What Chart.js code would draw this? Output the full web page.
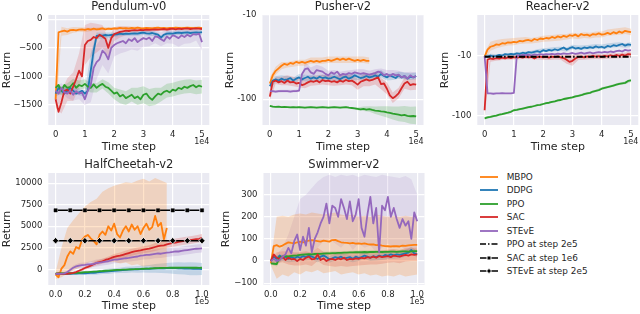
<!DOCTYPE html>
<html><head><meta charset="utf-8">
<script src="https://cdn.jsdelivr.net/npm/chart.js@4.4.0/dist/chart.umd.min.js"></script>
<style>
html,body{margin:0;padding:0;background:#fff;width:640px;height:314px;overflow:hidden;position:relative;font-family:'DejaVu Sans',sans-serif;}
canvas{position:absolute;}
.lg{position:absolute;left:480px;height:12px;line-height:12px;font-size:8.9px;color:#262626;white-space:nowrap;}
.lg svg{position:absolute;left:0;top:2px;}
.lg span{position:absolute;left:26.7px;top:0;}
</style></head><body>
<script>
// ---------- tick labels / categories ----------
const legendLabels = ['MBPO','DDPG','PPO','SAC','STEvE','PPO at step 2e5','SAC at step 1e6','STEvE at step 2e5'];
const titles = ['Pendulum-v0','Pusher-v2','Reacher-v2','HalfCheetah-v2','Swimmer-v2'];
const xTicks5e4 = [0,10000,20000,30000,40000,50000];
const xTicks1e5 = [0,20000,40000,60000,80000,100000];
const pendYTicks = [0,-500,-1000,-1500];
const logYTicks = [-10,-100];
const cheetahYTicks = [0,2500,5000,7500,10000];
const swimYTicks = [-100,0,100,200,300];

const steps = (n, d) => Array.from({length: n}, (_, i) => i * d);

// ---------- Pendulum-v0 (every 1000 steps) ----------
const pendX = steps(51, 1000), pendBX = steps(26, 2000);
const pendMBPO = [-1400,-230,-210,-200,-215,-190,-185,-195,-180,-175,-185,-170,-180,-165,-175,-170,-160,-175,-165,-170,-160,-165,-150,-160,-155,-165,-150,-160,-145,-155,-160,-150,-155,-160,-150,-145,-155,-150,-160,-150,-155,-145,-150,-155,-150,-145,-150,-155,-150,-145,-155];
const pendDDPG = [-1300,-1200,-1250,-1300,-1250,-1200,-1250,-1300,-1280,-1250,-1300,-1250,-900,-550,-290,-280,-285,-275,-280,-275,-270,-265,-250,-260,-250,-255,-250,-245,-250,-240,-235,-245,-250,-240,-255,-270,-320,-270,-250,-245,-250,-240,-235,-240,-235,-230,-240,-235,-230,-235,-225];
const pendPPO = [-1200,-1150,-1250,-1150,-1200,-1180,-1120,-1200,-1150,-1170,-1130,-1180,-1200,-1140,-1200,-1160,-1130,-1180,-1200,-1250,-1300,-1280,-1350,-1320,-1380,-1350,-1320,-1380,-1350,-1400,-1320,-1300,-1370,-1410,-1350,-1300,-1320,-1270,-1250,-1280,-1230,-1250,-1200,-1220,-1180,-1200,-1170,-1150,-1190,-1160,-1180];
const pendSAC = [-1400,-1620,-1450,-1250,-1230,-1300,-1180,-1050,-900,-1000,-450,-380,-360,-310,-330,-270,-300,-340,-500,-330,-260,-240,-220,-210,-200,-205,-195,-190,-195,-185,-190,-180,-185,-180,-175,-180,-175,-170,-180,-170,-165,-175,-165,-170,-165,-160,-170,-165,-160,-165,-170];
const pendSTEVE = [-1250,-1300,-1200,-1280,-1300,-1250,-1320,-1260,-1300,-1280,-1400,-1250,-1150,-850,-750,-700,-550,-600,-700,-500,-450,-420,-400,-380,-420,-350,-380,-330,-400,-360,-330,-350,-320,-380,-300,-310,-350,-380,-300,-340,-280,-300,-330,-280,-310,-270,-300,-260,-270,-250,-400];
const pendMBPOsd = [300,80,60,50,40,40,30,30,30,25,25,25,25,25,20,20,20,20,20,20,20,20,20,20,20,20];
const pendDDPGsd = [50,50,60,60,50,60,300,60,50,50,40,40,40,40,40,40,40,40,40,40,40,40,40,40,40,40];
const pendPPOsd = [80,80,80,80,80,80,80,80,80,100,100,120,120,120,150,150,150,150,120,120,120,120,120,120,120,120];
const pendSACsd = [150,200,200,250,300,350,300,250,200,150,120,100,80,60,50,40,40,30,30,30,30,30,30,30,30,30];
const pendSTEVEsd = [80,80,80,100,100,100,300,300,250,250,200,200,150,150,150,150,150,120,120,120,150,150,120,120,100,150];

// ---------- Pusher-v2 ----------
const pushX = steps(51, 1000), pushBX = steps(26, 2000);
const pushMBPO = [-65,-52,-46,-43,-40,-38,-39,-37,-38,-36,-37,-36,-37,-36,-35,-36,-35,-36,-35,-35,-34,-35,-34,-33,-34,-33,-34,-33,-34,-35,-34,-35,-34,-35,-35];
const pushDDPG = [-70,-60,-58,-60,-57,-59,-58,-56,-60,-57,-55,-58,-56,-54,-57,-55,-57,-54,-56,-55,-57,-56,-54,-56,-58,-55,-54,-57,-55,-52,-54,-56,-55,-53,-55,-54,-52,-54,-50,-53,-55,-52,-54,-56,-52,-55,-53,-57,-54,-55,-53];
const pushPPO = [-120,-122,-123,-122,-124,-123,-124,-125,-124,-125,-124,-125,-126,-125,-124,-125,-126,-125,-124,-125,-126,-125,-124,-125,-126,-125,-124,-126,-127,-128,-130,-132,-130,-133,-131,-134,-136,-137,-139,-140,-143,-145,-148,-150,-152,-155,-153,-157,-159,-158,-160];
const pushSAC = [-93,-62,-60,-63,-61,-64,-60,-63,-62,-65,-64,-68,-66,-63,-61,-62,-60,-63,-59,-61,-60,-62,-61,-63,-60,-62,-59,-61,-60,-63,-67,-62,-60,-58,-60,-59,-57,-55,-66,-65,-75,-90,-97,-92,-85,-74,-65,-62,-68,-66,-67];
const pushSTEVE = [-80,-80,-81,-80,-80,-80,-80,-81,-80,-80,-79,-50,-44,-43,-48,-50,-45,-46,-47,-50,-52,-48,-50,-47,-52,-50,-51,-49,-50,-48,-49,-50,-49,-50,-51,-50,-49,-47,-48,-52,-50,-53,-50,-52,-51,-55,-53,-57,-52,-55,-53];
const pushMBPOsd = [10,5,4,3,3,3,3,3,3,3,3,3,3,3,3,3,3,3];
const pushDDPGsd = [6,5,5,5,5,5,5,5,5,5,5,5,5,5,5,5,5,5,5,5,5,5,5,5,5,5];
const pushPPOsd = [3,3,3,3,3,3,3,3,3,3,3,3,3,3,3,5,8,10,14,18,22,26,30,33,36,38];
const pushSACsd = [10,6,7,8,8,8,8,8,8,8,8,8,8,8,8,10,10,10,10,10,12,14,12,10,10,10];
const pushSTEVEsd = [3,3,3,3,3,3,8,6,6,6,6,5,5,5,5,5,5,5,5,5,5,5,5,5,5,5];

// ---------- Reacher-v2 ----------
const reachX = steps(51, 1000), reachBX = steps(26, 2000);
const reachMBPO = [-10.2,-7.8,-7.0,-6.8,-6.4,-6.5,-6.1,-6.2,-5.9,-6.0,-5.8,-5.9,-5.6,-5.7,-5.5,-5.4,-5.6,-5.2,-5.4,-5.1,-5.2,-5.0,-5.1,-4.8,-5.0,-4.7,-4.9,-4.6,-4.8,-4.5,-4.6,-4.4,-4.7,-4.3,-4.5,-4.4,-4.6,-4.3,-4.4,-4.2,-4.4,-4.3,-4.1,-4.3,-4.0,-4.2,-3.9,-4.1,-3.8,-3.9,-4.0];
const reachDDPG = [-10.0,-10.2,-9.8,-10.1,-9.9,-9.6,-9.8,-9.3,-9.5,-9.2,-9.4,-9.0,-9.2,-8.8,-9.0,-8.6,-8.8,-8.5,-8.3,-8.6,-8.0,-8.3,-7.9,-8.1,-7.7,-8.0,-7.6,-7.2,-7.8,-7.4,-7.1,-7.5,-7.3,-7.6,-7.2,-7.4,-7.1,-7.3,-6.9,-7.2,-7.0,-7.3,-6.8,-7.0,-6.6,-6.8,-6.5,-6.3,-6.7,-6.4,-6.5];
const reachPPO = [-109,-105,-103,-100,-98,-95,-93,-90,-88,-85,-80,-79,-77,-75,-73,-71,-70,-68,-66,-65,-63,-61,-60,-58,-57,-55,-54,-52,-51,-50,-49,-47,-46,-45,-43,-42,-41,-39,-38,-37,-35,-34,-33,-32,-31,-30,-29,-28.5,-28,-26,-25.5];
const reachSAC = [-80,-11.5,-11,-11.2,-10.8,-11,-10.6,-10.9,-10.5,-10.8,-10.4,-10.7,-10.3,-10.6,-10.2,-10.5,-10.3,-11.0,-10.4,-10.2,-10.5,-10.3,-10.6,-10.2,-10.4,-10.1,-10.5,-10.8,-11.5,-12.5,-12.0,-11.0,-10.4,-10.2,-10.5,-10.1,-10.3,-9.9,-10.2,-10.0,-10.3,-9.9,-10.1,-9.7,-10.0,-9.6,-9.9,-9.5,-9.8,-9.3,-9.4];
const reachSTEVE = [-10,-42,-42,-42.5,-42,-42,-41.5,-42,-42,-42,-41,-9.8,-9.9,-9.6,-9.7,-9.5,-9.8,-9.4,-9.6,-9.3,-9.5,-9.3,-9.4,-9.2,-9.4,-9.1,-9.3,-9.0,-9.2,-9.1,-8.9,-9.2,-9.0,-8.8,-9.1,-8.9,-8.7,-9.0,-8.8,-8.6,-8.8,-8.5,-8.7,-8.4,-8.6,-8.3,-8.1,-8.4,-7.9,-8.1,-8.0];
const reachMBPOsd = [1.5,1.2,1.0,0.9,0.8,0.8,0.7,0.7,0.6,0.6,0.6,0.6,0.6,0.6,0.5,0.5,0.5,0.5,0.5,0.5,0.5,0.5,0.5,0.5,0.5,0.5];
const reachDDPGsd = [0.5,0.6,0.6,0.6,0.6,0.6,0.6,0.6,0.6,0.6,0.6,0.6,0.6,0.6,0.6,0.6,0.6,0.6,0.6,0.6,0.6,0.6,0.6,0.6,0.6,0.6];
const reachPPOsd = [5,5,4,4,3.5,3.5,3,3,3,2.5,2.5,2.5,2,2,2,2,2,2,1.8,1.8,1.8,1.5,1.5,1.5,1.5,1.5];
const reachSACsd = [30,1.5,1.2,1.0,1.0,1.0,1.0,1.0,1.0,1.0,1.0,1.0,1.0,1.0,2.0,2.5,1.2,1.0,1.0,1.0,1.0,1.0,1.0,1.0,1.0,1.0];
const reachRefX = [0, 50000];
const reachPPO2e5 = [-10.3, -10.3];

// ---------- HalfCheetah-v2 (every 2000 steps) ----------
const cheetahX = steps(51, 2000), cheetahBX = steps(26, 4000);
const cheetahMBPO = [-600,-900,100,500,1500,2100,1800,2600,2400,3400,3800,4000,3600,3300,2900,4000,4400,4000,5000,4500,5300,4100,3700,4500,5000,4400,5200,4600,5000,4100,4800,5300,4600,4900,6200,5000,5400,3500,4800];
const cheetahDDPG = [-500,-480,-520,-500,-490,-500,-480,-470,-460,-450,-440,-420,-400,-380,-350,-300,-280,-250,-220,-200,-150,-130,-100,-80,-50,-30,0,20,10,40,60,80,70,100,120,130,150,140,160,170,150,160,140,120,110,100,90,80,70,60,50];
const cheetahPPO = [-450,-460,-440,-450,-430,-440,-420,-400,-380,-350,-320,-300,-280,-260,-240,-200,-180,-150,-130,-100,-80,-60,-50,-30,-20,0,20,30,50,60,80,100,110,130,140,150,170,180,190,200,200,210,200,210,220,210,200,210,200,190,200];
const cheetahSAC = [-500,-450,-500,-480,-500,-450,-400,-300,-150,0,170,300,450,600,750,850,950,1100,1200,1330,1450,1550,1600,1700,1800,1900,2000,2100,2150,2200,2290,2350,2400,2500,2600,2700,2750,2800,2900,3000,3070,3100,3200,3250,3300,3350,3400,3450,3500,3550,3650];
const cheetahSTEVE = [-500,-520,-480,-450,-300,-50,200,350,450,500,520,580,600,650,750,800,850,900,950,1050,1130,1150,1200,1250,1300,1330,1400,1450,1500,1600,1640,1700,1680,1750,1800,1850,1820,1900,1950,1980,2030,2100,2080,2150,2200,2250,2300,2350,2400,2420,2450];
const cheetahMBPOhi = [-300,2500,4800,5700,6500,7300,7800,8200,9000,9400,9700,9900,10100,10000,10300,10500,10200,10600,10300,10000];
const cheetahMBPOlo = [-1100,-900,-500,-100,200,600,900,700,1000,800,900,700,800,500,600,300,400,200,100,300];
const cheetahDDPGsd = [100,100,100,150,150,200,200,250,250,300,300,300,350,350,400,400,450,500,550,600,650,700,700,750,750,700];
const cheetahPPOsd = [50,50,50,60,60,70,70,80,80,90,90,100,100,100,100,100,100,100,100,100,100,100,100,100,100,100];
const cheetahSACsd = [100,100,100,100,150,200,250,250,300,300,350,350,400,400,400,400,400,450,450,450,450,450,450,450,450,450];
const cheetahSTEVEsd = [100,100,150,250,300,300,350,400,400,400,400,450,450,450,450,500,500,500,500,500,500,500,500,500,500,500];
const cheetahRefX = [0,10000,20000,30000,40000,50000,60000,70000,80000,90000,100000];
const cheetahSAC1e6 = [6850,6850,6850,6850,6850,6850,6850,6850,6850,6850,6850];
const cheetahSTEVE2e5 = [3330,3330,3330,3330,3330,3330,3330,3330,3330,3330,3330];

// ---------- Swimmer-v2 (every 2000 steps) ----------
const swimX = steps(51, 2000), swimBX = steps(26, 4000);
const swimMBPO = [-10,68,72,65,70,78,85,82,80,85,88,84,90,92,95,92,90,88,92,90,88,95,96,90,85,83,82,80,82,79,80,78,80,77,75,76,72,73,70,68,67,66,68,67,66,70,69,71,72,73,73];
const swimDDPG = [0,20,10,25,15,20,10,18,12,20,15,22,18,25,20,15,10,20,25,18,8,12,18,15,20,12,15,18,10,20,15,18,25,20,15,22,18,25,20,28,25,30,26,30,28,32,35,38,50,35,30];
const swimPPO = [-10,-12,-14,18,20,22,21,24,25,26,28,29,30,31,30,32,33,33,34,35,35,36,36,37,37,38,38,39,39,40,40,40,41,40,41,41,42,42,41,42,42,43,43,42,43,44,44,43,44,45,45];
const swimSAC = [0,30,15,10,20,5,15,8,10,0,10,5,15,20,8,10,30,5,12,0,8,10,5,12,8,15,5,10,8,12,10,15,12,18,15,20,15,22,18,20,22,18,25,22,20,25,28,25,30,28,30];
const swimSTEVE = [0,10,0,5,20,30,60,35,90,120,50,110,70,150,40,100,130,170,200,260,170,250,240,200,280,240,190,270,180,210,280,150,110,210,290,170,240,40,250,230,290,200,240,190,150,190,160,180,100,220,180];
const swimMBPOhi = [0,200,205,200,210,215,210,220,215,210,215,220,210,205,210,200,205,200,210,205,200,205,200,205,200,205];
const swimMBPOlo = [-20,-80,-60,-70,-50,-60,-45,-50,-40,-55,-50,-45,-60,-55,-50,-60,-55,-65,-60,-70,-65,-70,-60,-70,-65,-60];
const swimSTEVEhi = [10,30,60,120,200,280,300,330,360,380,390,380,390,385,390,380,390,385,380,390,385,380,375,385,370,300];
const swimSTEVElo = [-10,-5,0,10,0,20,10,30,60,90,100,80,60,90,50,80,60,70,40,60,80,60,70,50,40,60];
const swimDDPGsd = [5,15,15,15,15,15,15,15,15,15,15,15,15,15,15,15,15,15,15,15,15,15,15,15,15,15];
const swimPPOsd = [5,10,8,8,8,8,8,8,8,8,8,8,8,8,8,8,8,8,8,8,8,8,8,8,8,8];
const swimSACsd = [10,25,25,30,30,30,30,30,30,30,30,30,30,30,30,30,30,30,30,30,30,30,30,30,30,30];

// ---------- styling ----------
const FONT = "'DejaVu Sans', sans-serif";
const TXT = '#262626';
const C = {MBPO:'#ff7f0e', DDPG:'#1f77b4', PPO:'#2ca02c', SAC:'#d62728', STEVE:'#9467bd'};
function rgba(hex, a){const n=parseInt(hex.slice(1),16);return `rgba(${n>>16},${(n>>8)&255},${n&255},${a})`;}
const ident = v => v, neg = v => -v;
const minusFmt = v => (v < 0 ? '\u2212' + Math.abs(v) : String(v));

function lineDs(xs, ys, color, order, f, extra) {
  f = f || ident;
  return Object.assign({data: ys.map((y,i)=>({x: xs[i], y: f(y)})), borderColor: color, borderWidth: 1.8,
    pointRadius: 0, pointHoverRadius: 0, fill: false, tension: 0, order: order, borderJoinStyle: 'round'}, extra || {});
}
function bandDs(xs, hi, lo, color, f, alpha) {
  f = f || ident;
  return [
    {data: hi.map((y,i)=>({x: xs[i], y: f(y)})), borderWidth: 0, borderColor: 'rgba(0,0,0,0)', pointRadius: 0, pointHoverRadius: 0,
      backgroundColor: rgba(color, alpha || 0.2), fill: '+1', tension: 0, order: 20},
    {data: lo.map((y,i)=>({x: xs[i], y: f(y)})), borderWidth: 0, borderColor: 'rgba(0,0,0,0)', pointRadius: 0, pointHoverRadius: 0,
      fill: false, tension: 0, order: 20}
  ];
}
function sdBand(xs, mean, sd, stride, color, f, alpha) {
  const hi = sd.map((s,i)=>mean[i*stride] + s), lo = sd.map((s,i)=>mean[i*stride] - s);
  return bandDs(xs, hi, lo, color, f, alpha);
}

const bgPlugin = {id:'bg', beforeDraw(c){const a=c.chartArea, ctx=c.ctx; ctx.save(); ctx.fillStyle='#EAEAF2'; ctx.fillRect(a.left,a.top,a.right-a.left,a.bottom-a.top); ctx.restore();}};
const offPlugin = {id:'offtext', afterDraw(c, args, opts){ if(!opts || !opts.text) return; const a=c.chartArea, ctx=c.ctx; ctx.save(); ctx.font='8px '+FONT; ctx.fillStyle=TXT; ctx.textAlign='right'; ctx.textBaseline='middle'; ctx.fillText(opts.text, a.right, a.bottom + opts.dy); ctx.restore();}};

function makeChart(o) {
  const cv = document.createElement('canvas');
  cv.width = o.box[2]; cv.height = o.box[3];
  cv.style.left = o.box[0] + 'px'; cv.style.top = o.box[1] + 'px';
  cv.style.width = o.box[2] + 'px'; cv.style.height = o.box[3] + 'px';
  document.body.appendChild(cv);
  const area = o.area; // [L,T,R,B]
  const yW = area[0] - o.box[0];
  const xH = o.box[1] + o.box[3] - area[3];
  const tPad = area[1] - o.box[1] - 11.5 * 1.2;
  const rp = o.box[0] + o.box[2] - area[2];
  const grid = {color:'#ffffff', lineWidth:1.2, drawTicks:false};
  new Chart(cv, {
    type: 'line',
    data: {datasets: o.datasets},
    plugins: [bgPlugin, offPlugin],
    options: {
      animation: false, responsive: false, devicePixelRatio: 1,
      layout: {padding: {left: 0, top: 0, right: rp, bottom: 0}},
      plugins: {
        legend: {display: false}, tooltip: {enabled: false},
        title: {display: true, fullSize: false, text: o.title, color: TXT, font: {family: FONT, size: 11.5, weight: 'normal'}, padding: {top: 0, bottom: tPad}},
        offtext: {text: o.off, dy: 16.7}
      },
      scales: {
        x: {type: 'linear', min: o.xMin, max: o.xMax,
          afterBuildTicks: s => { s.ticks = o.xTicks.map(v => ({value: v})); },
          afterFit: s => { s.height = xH; },
          ticks: {callback: v => o.xFmt(v), color: TXT, font: {family: FONT, size: 8.5}, padding: 5, maxRotation: 0, autoSkip: false},
          grid: grid, border: {display: false},
          title: {display: true, text: 'Time step', color: TXT, font: {family: FONT, size: 11}, padding: {top: 0, bottom: 0}}},
        y: {type: o.yType || 'linear', min: o.yMin, max: o.yMax, reverse: !!o.yReverse,
          afterBuildTicks: s => { s.ticks = o.yTicks.map(v => ({value: v})); },
          afterFit: s => { s.width = yW; },
          ticks: {callback: v => o.yFmt(v), color: TXT, font: {family: FONT, size: 8.5}, padding: 6, autoSkip: false},
          grid: grid, border: {display: false},
          title: {display: true, text: 'Return', color: TXT, font: {family: FONT, size: 11}, padding: {top: o.yTitlePad, bottom: 0}}}
      }
    }
  });
}

const fmt5e4 = v => String(v / 10000);
const fmt1e5 = v => (v / 100000).toFixed(1);
const negLogFmt = v => '-' + v;

// Pendulum
makeChart({box:[0,0,219,154], area:[48.3,15,209.3,125], title:titles[0], off:'1e4',
  xMin:-2500, xMax:52500, xTicks:xTicks5e4, xFmt:fmt5e4,
  yMin:-1850, yMax:75, yTicks:pendYTicks, yFmt:minusFmt, yTitlePad:0.4,
  datasets:[
    ...sdBand(pendBX, pendMBPO, pendMBPOsd, 2, C.MBPO),
    ...sdBand(pendBX, pendDDPG, pendDDPGsd, 2, C.DDPG),
    ...sdBand(pendBX, pendPPO, pendPPOsd, 2, C.PPO),
    ...sdBand(pendBX, pendSAC, pendSACsd, 2, C.SAC, ident, 0.16),
    ...sdBand(pendBX, pendSTEVE, pendSTEVEsd, 2, C.STEVE, ident, 0.16),
    lineDs(pendX, pendMBPO, C.MBPO, 5), lineDs(pendX, pendDDPG, C.DDPG, 4), lineDs(pendX, pendPPO, C.PPO, 3),
    lineDs(pendX, pendSAC, C.SAC, 2), lineDs(pendX, pendSTEVE, C.STEVE, 1)
  ]});

// Pusher (log scale of negated return)
makeChart({box:[220,0,213,154], area:[262.5,15,423.5,125], title:titles[1], off:'1e4',
  xMin:-2500, xMax:52500, xTicks:xTicks5e4, xFmt:fmt5e4,
  yType:'logarithmic', yReverse:true, yMin:10, yMax:202, yTicks:logYTicks.map(neg), yFmt:negLogFmt, yTitlePad:3.4,
  datasets:[
    ...sdBand(pushBX, pushMBPO, pushMBPOsd, 2, C.MBPO, neg),
    ...sdBand(pushBX, pushDDPG, pushDDPGsd, 2, C.DDPG, neg),
    ...sdBand(pushBX, pushPPO, pushPPOsd, 2, C.PPO, neg),
    ...sdBand(pushBX, pushSAC, pushSACsd, 2, C.SAC, neg),
    ...sdBand(pushBX, pushSTEVE, pushSTEVEsd, 2, C.STEVE, neg),
    lineDs(pushX, pushMBPO, C.MBPO, 5, neg), lineDs(pushX, pushDDPG, C.DDPG, 4, neg), lineDs(pushX, pushPPO, C.PPO, 3, neg),
    lineDs(pushX, pushSAC, C.SAC, 2, neg), lineDs(pushX, pushSTEVE, C.STEVE, 1, neg)
  ]});

// Reacher
makeChart({box:[435,0,205,154], area:[477.3,15,638.3,125], title:titles[2], off:'1e4',
  xMin:-2500, xMax:52500, xTicks:xTicks5e4, xFmt:fmt5e4,
  yType:'logarithmic', yReverse:true, yMin:2.07, yMax:141, yTicks:logYTicks.map(neg), yFmt:negLogFmt, yTitlePad:3.4,
  datasets:[
    ...sdBand(reachBX, reachMBPO, reachMBPOsd, 2, C.MBPO, neg),
    ...sdBand(reachBX, reachDDPG, reachDDPGsd, 2, C.DDPG, neg),
    ...sdBand(reachBX, reachPPO, reachPPOsd, 2, C.PPO, neg),
    ...sdBand(reachBX, reachSAC, reachSACsd, 2, C.SAC, neg),
    lineDs(reachX, reachMBPO, C.MBPO, 5, neg), lineDs(reachX, reachDDPG, C.DDPG, 4, neg), lineDs(reachX, reachPPO, C.PPO, 3, neg),
    lineDs(reachX, reachSAC, C.SAC, 2, neg), lineDs(reachX, reachSTEVE, C.STEVE, 1, neg),
    lineDs(reachRefX, reachPPO2e5, '#000000', 0, neg, {borderWidth: 2, borderDash: [6, 2, 1.5, 2]})
  ]});

// HalfCheetah
makeChart({box:[0,158,219,155], area:[48.3,173,209.3,285], title:titles[3], off:'1e5',
  xMin:-5000, xMax:105000, xTicks:xTicks1e5, xFmt:fmt1e5,
  yMin:-1800, yMax:11170, yTicks:cheetahYTicks, yFmt:minusFmt, yTitlePad:0.3,
  datasets:[
    ...bandDs(cheetahBX, cheetahMBPOhi, cheetahMBPOlo, C.MBPO, ident, 0.22),
    ...sdBand(cheetahBX, cheetahDDPG, cheetahDDPGsd, 2, C.DDPG),
    ...sdBand(cheetahBX, cheetahPPO, cheetahPPOsd, 2, C.PPO),
    ...sdBand(cheetahBX, cheetahSAC, cheetahSACsd, 2, C.SAC),
    ...sdBand(cheetahBX, cheetahSTEVE, cheetahSTEVEsd, 2, C.STEVE),
    lineDs(cheetahX, cheetahMBPO, C.MBPO, 5), lineDs(cheetahX, cheetahDDPG, C.DDPG, 4), lineDs(cheetahX, cheetahPPO, C.PPO, 3),
    lineDs(cheetahX, cheetahSAC, C.SAC, 2), lineDs(cheetahX, cheetahSTEVE, C.STEVE, 1),
    lineDs(cheetahRefX, cheetahSAC1e6, '#000000', 0, ident, {borderWidth: 1.5, borderDash: [10, 4.6], borderDashOffset: 12.3, pointRadius: 2.3, pointStyle: 'rect', pointBackgroundColor: '#000', pointBorderColor: '#000', pointBorderWidth: 0.5}),
    lineDs(cheetahRefX, cheetahSTEVE2e5, '#000000', 0, ident, {borderWidth: 1.5, borderDash: [10, 4.6], borderDashOffset: 12.3, pointRadius: 3.2, pointStyle: 'rectRot', pointBackgroundColor: '#000', pointBorderColor: '#ffffff', pointBorderWidth: 0.8})
  ]});

// Swimmer
makeChart({box:[215,158,218,155], area:[263.5,173,424.5,285], title:titles[4], off:'1e5',
  xMin:-5000, xMax:105000, xTicks:xTicks1e5, xFmt:fmt1e5,
  yMin:-108, yMax:398, yTicks:swimYTicks, yFmt:minusFmt, yTitlePad:4.4,
  datasets:[
    ...bandDs(swimBX, swimMBPOhi, swimMBPOlo, C.MBPO, ident, 0.22),
    ...bandDs(swimBX, swimSTEVEhi, swimSTEVElo, C.STEVE, ident, 0.14),
    ...sdBand(swimBX, swimDDPG, swimDDPGsd, 2, C.DDPG),
    ...sdBand(swimBX, swimPPO, swimPPOsd, 2, C.PPO),
    ...sdBand(swimBX, swimSAC, swimSACsd, 2, C.SAC),
    lineDs(swimX, swimMBPO, C.MBPO, 5), lineDs(swimX, swimDDPG, C.DDPG, 4), lineDs(swimX, swimPPO, C.PPO, 3),
    lineDs(swimX, swimSAC, C.SAC, 2), lineDs(swimX, swimSTEVE, C.STEVE, 1)
  ]});

// ---------- legend ----------
const legendColors = [C.MBPO, C.DDPG, C.PPO, C.SAC, C.STEVE];
legendLabels.forEach((lab, i) => {
  const d = document.createElement('div');
  d.className = 'lg';
  d.style.top = (176.8 + 13.5 * i - 6) + 'px';
  let svg;
  if (i < 5) {
    svg = `<svg width="20" height="8"><line x1="0" y1="4" x2="18" y2="4" stroke="${legendColors[i]}" stroke-width="1.8"/></svg>`;
  } else if (i === 5) {
    svg = `<svg width="20" height="8"><line x1="0" y1="4" x2="18" y2="4" stroke="#000" stroke-width="1.5" stroke-dasharray="6,2,1.5,2"/></svg>`;
  } else if (i === 6) {
    svg = `<svg width="20" height="8"><line x1="0" y1="4" x2="6.5" y2="4" stroke="#000" stroke-width="1.5"/><rect x="7.5" y="2.5" width="3" height="3" fill="#000"/><line x1="11.5" y1="4" x2="18" y2="4" stroke="#000" stroke-width="1.5"/></svg>`;
  } else {
    svg = `<svg width="20" height="8"><line x1="0" y1="4" x2="6.5" y2="4" stroke="#000" stroke-width="1.5"/><polygon points="9,1.6 11.4,4 9,6.4 6.6,4" fill="#000" stroke="#fff" stroke-width="0.6"/><line x1="11.5" y1="4" x2="18" y2="4" stroke="#000" stroke-width="1.5"/></svg>`;
  }
  d.innerHTML = svg + `<span>${lab}</span>`;
  document.body.appendChild(d);
});
</script>
</body></html>
